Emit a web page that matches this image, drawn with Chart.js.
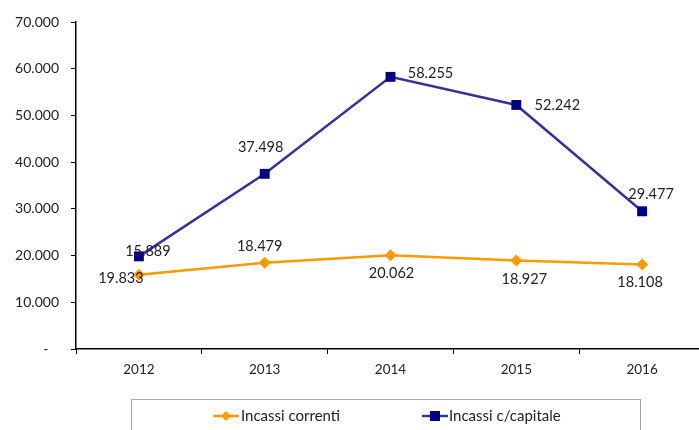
<!DOCTYPE html>
<html>
<head>
<meta charset="utf-8">
<script src="https://cdn.jsdelivr.net/npm/chart.js@4"></script>
<style>
  html, body { margin: 0; padding: 0; background: #fff; overflow: hidden; }
  #wrap { width: 712px; height: 430px; }
</style>
</head>
<body>
<div id="wrap"><canvas id="incassiChart" width="712" height="430"></canvas></div>
<script>
const years = ["2012", "2013", "2014", "2015", "2016"];
const incassiCorrenti = [15889, 18479, 20062, 18927, 18108];
const incassiCapitale = [19833, 37498, 58255, 52242, 29477];
const yTicks = [0, 10000, 20000, 30000, 40000, 50000, 60000, 70000];

// label offsets (dx, dy) from each point, like the hand-placed Excel labels
const correntiLabelPos = [[9, -23], [-5, -16], [1, 18], [8, 19], [-2, 18]];
const capitaleLabelPos = [[-18, 22], [-4, -27], [40, -4], [41, 0], [9, -17]];

const fmt = (v) => (v === 0 ? "-" : v.toLocaleString("it-IT"));
const FONT = "Lato, 'Open Sans', sans-serif";

const valueLabels = {
  id: "valueLabels",
  afterDatasetsDraw(chart) {
    const ctx = chart.ctx;
    ctx.save();
    ctx.font = "14.5px " + FONT;
    ctx.fillStyle = "#222";
    ctx.textAlign = "center";
    ctx.textBaseline = "middle";
    const offsets = [correntiLabelPos, capitaleLabelPos];
    chart.data.datasets.forEach((ds, i) => {
      chart.getDatasetMeta(i).data.forEach((pt, j) => {
        const [dx, dy] = offsets[i][j];
        ctx.fillText(fmt(ds.data[j]), pt.x + dx, pt.y + dy);
      });
    });
    ctx.restore();
  },
};

const boxLegend = {
  id: "boxLegend",
  afterDraw(chart) {
    const ctx = chart.ctx;
    ctx.save();
    ctx.strokeStyle = "#a6a6a6";
    ctx.lineWidth = 1;
    ctx.strokeRect(131.5, 399.5, 509, 40);
    ctx.font = "15px " + FONT;
    ctx.textBaseline = "middle";
    ctx.fillStyle = "#222";
    const y = 416;
    // orange item
    ctx.strokeStyle = "#ff9900";
    ctx.lineWidth = 2.5;
    ctx.beginPath(); ctx.moveTo(213, y); ctx.lineTo(239, y); ctx.stroke();
    ctx.fillStyle = "#ff9900";
    ctx.beginPath();
    ctx.moveTo(226, y - 5); ctx.lineTo(231, y); ctx.lineTo(226, y + 5); ctx.lineTo(221, y);
    ctx.closePath(); ctx.fill();
    ctx.fillStyle = "#222";
    ctx.fillText("Incassi correnti", 241, y);
    // blue item
    ctx.strokeStyle = "#333399";
    ctx.beginPath(); ctx.moveTo(422, y); ctx.lineTo(448, y); ctx.stroke();
    ctx.fillStyle = "#000080";
    ctx.fillRect(430, y - 5, 10, 10);
    ctx.fillStyle = "#222";
    ctx.fillText("Incassi c/capitale", 449, y);
    ctx.restore();
  },
};

new Chart(document.getElementById("incassiChart").getContext("2d"), {
  type: "line",
  data: {
    labels: years,
    datasets: [
      {
        label: "Incassi correnti",
        data: incassiCorrenti,
        borderColor: "#ff9900",
        backgroundColor: "#ff9900",
        borderWidth: 2.5,
        pointStyle: "rectRot",
        pointRadius: 6,
        pointBorderWidth: 0,
        tension: 0,
      },
      {
        label: "Incassi c/capitale",
        data: incassiCapitale,
        borderColor: "#333399",
        backgroundColor: "#000080",
        borderWidth: 2.5,
        pointStyle: "rect",
        pointRadius: 7,
        pointBorderWidth: 0,
        tension: 0,
      },
    ],
  },
  options: {
    responsive: false,
    animation: false,
    layout: { padding: { top: 22, right: 2, bottom: 51, left: 1 } },
    plugins: { legend: { display: false }, tooltip: { enabled: false } },
    scales: {
      x: {
        offset: true,
        grid: { offset: true, drawOnChartArea: false, tickLength: 5, color: "#000" },
        border: { color: "#000", width: 1.5 },
        ticks: { color: "#222", font: { family: FONT, size: 13.5 }, padding: 8 },
        afterFit: (s) => { s.height = 30; },
      },
      y: {
        min: 0,
        max: 70000,
        afterBuildTicks: (s) => { s.ticks = yTicks.map((v) => ({ value: v })); },
        grid: { drawOnChartArea: false, tickLength: 5, color: "#000" },
        border: { color: "#000", width: 1.5 },
        ticks: {
          color: "#222",
          font: { family: FONT, size: 14 },
          padding: 12,
          callback: (v) => (v === 0 ? "-\u2003" : fmt(v)),
        },
        afterFit: (s) => { s.width = 75; },
      },
    },
  },
  plugins: [valueLabels, boxLegend],
});
</script>
</body>
</html>
